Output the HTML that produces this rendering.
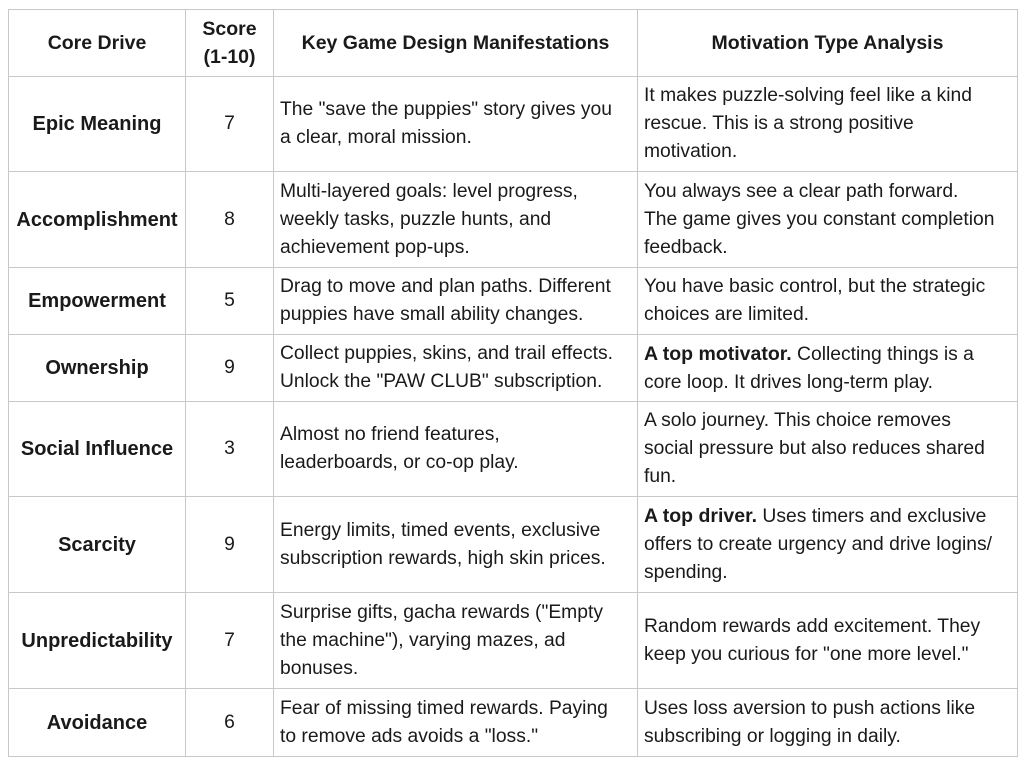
<!DOCTYPE html>
<html><head><meta charset="utf-8"><style>
body{margin:0;background:#fff;width:1024px;height:764px;overflow:hidden;font-family:"Liberation Sans","DejaVu Sans",sans-serif;color:#1a1a1a}
table{position:absolute;left:8px;top:9px;border-collapse:collapse;table-layout:fixed;font-size:19.3px;line-height:28px}
td,th{border:1px solid #c8c8c8;padding:0 6px;vertical-align:middle;white-space:nowrap;overflow:hidden}
th{font-weight:bold;text-align:center;font-size:19.5px}
td.a{font-weight:bold;text-align:center;padding:0 2px;font-size:20px}
td.b{text-align:center}
b{font-size:19.5px}
</style></head><body>
<table>
<colgroup><col style="width:177px"><col style="width:88px"><col style="width:364px"><col style="width:380px"></colgroup>
<tr style="height:67px"><th>Core Drive</th><th>Score<br>(1-10)</th><th>Key Game Design Manifestations</th><th>Motivation Type Analysis</th></tr>
<tr style="height:95px"><td class="a">Epic Meaning</td><td class="b">7</td><td>The "save the puppies" story gives you<br>a clear, moral mission.</td><td>It makes puzzle-solving feel like a kind<br>rescue. This is a strong positive<br>motivation.</td></tr>
<tr style="height:96px"><td class="a">Accomplishment</td><td class="b">8</td><td>Multi-layered goals: level progress,<br>weekly tasks, puzzle hunts, and<br>achievement pop-ups.</td><td>You always see a clear path forward.<br>The game gives you constant completion<br>feedback.</td></tr>
<tr style="height:67px"><td class="a">Empowerment</td><td class="b">5</td><td>Drag to move and plan paths. Different<br>puppies have small ability changes.</td><td>You have basic control, but the strategic<br>choices are limited.</td></tr>
<tr style="height:67px"><td class="a">Ownership</td><td class="b">9</td><td>Collect puppies, skins, and trail effects.<br>Unlock the "PAW CLUB" subscription.</td><td><b>A top motivator.</b> Collecting things is a<br>core loop. It drives long-term play.</td></tr>
<tr style="height:95px"><td class="a">Social Influence</td><td class="b">3</td><td>Almost no friend features,<br>leaderboards, or co-op play.</td><td>A solo journey. This choice removes<br>social pressure but also reduces shared<br>fun.</td></tr>
<tr style="height:96px"><td class="a">Scarcity</td><td class="b">9</td><td>Energy limits, timed events, exclusive<br>subscription rewards, high skin prices.</td><td><b>A top driver.</b> Uses timers and exclusive<br>offers to create urgency and drive logins/<br>spending.</td></tr>
<tr style="height:96px"><td class="a">Unpredictability</td><td class="b">7</td><td>Surprise gifts, gacha rewards ("Empty<br>the machine"), varying mazes, ad<br>bonuses.</td><td>Random rewards add excitement. They<br>keep you curious for "one more level."</td></tr>
<tr style="height:68px"><td class="a">Avoidance</td><td class="b">6</td><td>Fear of missing timed rewards. Paying<br>to remove ads avoids a "loss."</td><td>Uses loss aversion to push actions like<br>subscribing or logging in daily.</td></tr>
</table>
</body></html>
